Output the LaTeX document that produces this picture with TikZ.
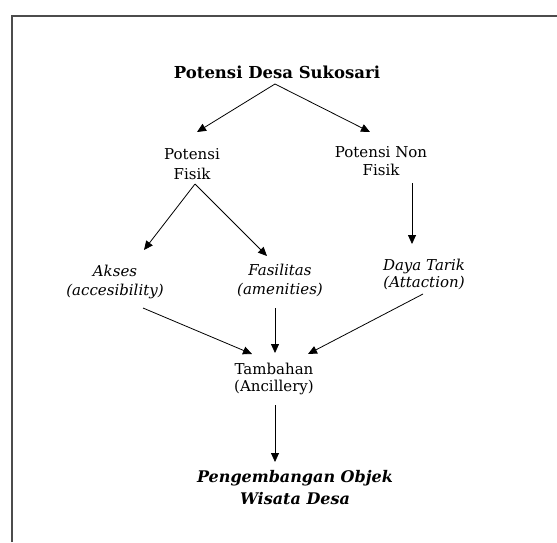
\documentclass[tikz,border=0pt]{standalone}
\usepackage{fontspec}
\setmainfont{DejaVu Serif}
\usetikzlibrary{arrows.meta}
\begin{document}
\begin{tikzpicture}[x=1pt, y=-1pt]
	\tikzstyle{text_title} = [inner sep=0pt, font=\bfseries\fontsize{16.5}{18}\selectfont]
	\tikzstyle{text_plain} = [inner sep=0pt, align=center, font=\fontsize{15}{18}\selectfont]
	\tikzstyle{text_italic} = [inner sep=0pt, align=center, font=\itshape\fontsize{15}{19}\selectfont]
	\tikzstyle{text_result} = [inner sep=0pt, align=center, font=\bfseries\itshape\fontsize{16}{22}\selectfont]
	\tikzstyle{arrow_solid} = [-{Triangle[length=9pt, width=8pt]}, line width=0.8pt]

	\useasboundingbox (0,0) rectangle (557,542);
	\draw[line width=1.5pt, black!70] (12,542) -- (12,16) -- (557,16);

%------------------------------------------------------------
	\node[text_title] (potensi) at (277,72) {Potensi Desa Sukosari};

	\node[text_plain] (fisik)    at (192,164) {Potensi\\[2pt]Fisik};
	\node[text_plain] (nonfisik) at (381,161) {Potensi Non\\Fisik};

	\path[arrow_solid] ([xshift=-2pt, yshift=-12pt]potensi.center) edge ([xshift=5pt, yshift=32pt]fisik.center);
	\path[arrow_solid] ([xshift=-2pt, yshift=-12pt]potensi.center) edge ([xshift=-11pt, yshift=29pt]nonfisik.center);
%------------------------------------------------------------

	\node[text_italic] (akses)     at (115,282) {Akses\\(accesibility)};
	\node[text_italic] (fasilitas) at (280,280) {Fasilitas\\(amenities)};
	\node[text_italic] (dayatarik) at (424,274) {Daya Tarik\\[-2pt](Attaction)};

	\path[arrow_solid] ([xshift=3pt, yshift=-20pt]fisik.center) edge ([xshift=29pt, yshift=32pt]akses.center);
	\path[arrow_solid] ([xshift=3pt, yshift=-20pt]fisik.center) edge ([xshift=-13pt, yshift=24pt]fasilitas.center);
	\path[arrow_solid] ([xshift=31pt, yshift=-22pt]nonfisik.center) edge ([xshift=-12pt, yshift=30pt]dayatarik.center);

%------------------------------------------------------------

	\node[text_plain] (tambahan) at (274,379) {Tambahan\\[-1pt](Ancillery)};

	\path[arrow_solid] ([xshift=28pt, yshift=-26pt]akses.center) edge ([xshift=-22pt, yshift=25pt]tambahan.center);
	\path[arrow_solid] ([xshift=-5pt, yshift=-28pt]fasilitas.center) edge ([xshift=1pt, yshift=26pt]tambahan.center);
	\path[arrow_solid] ([xshift=-1pt, yshift=-20pt]dayatarik.center) edge ([xshift=34pt, yshift=25pt]tambahan.center);

%------------------------------------------------------------

	\node[text_result] (pengembangan) at (295,488) {Pengembangan Objek\\Wisata Desa};

	\path[arrow_solid] ([xshift=1pt, yshift=-26pt]tambahan.center) edge ([xshift=-20pt, yshift=26pt]pengembangan.center);

\end{tikzpicture}
\end{document}
